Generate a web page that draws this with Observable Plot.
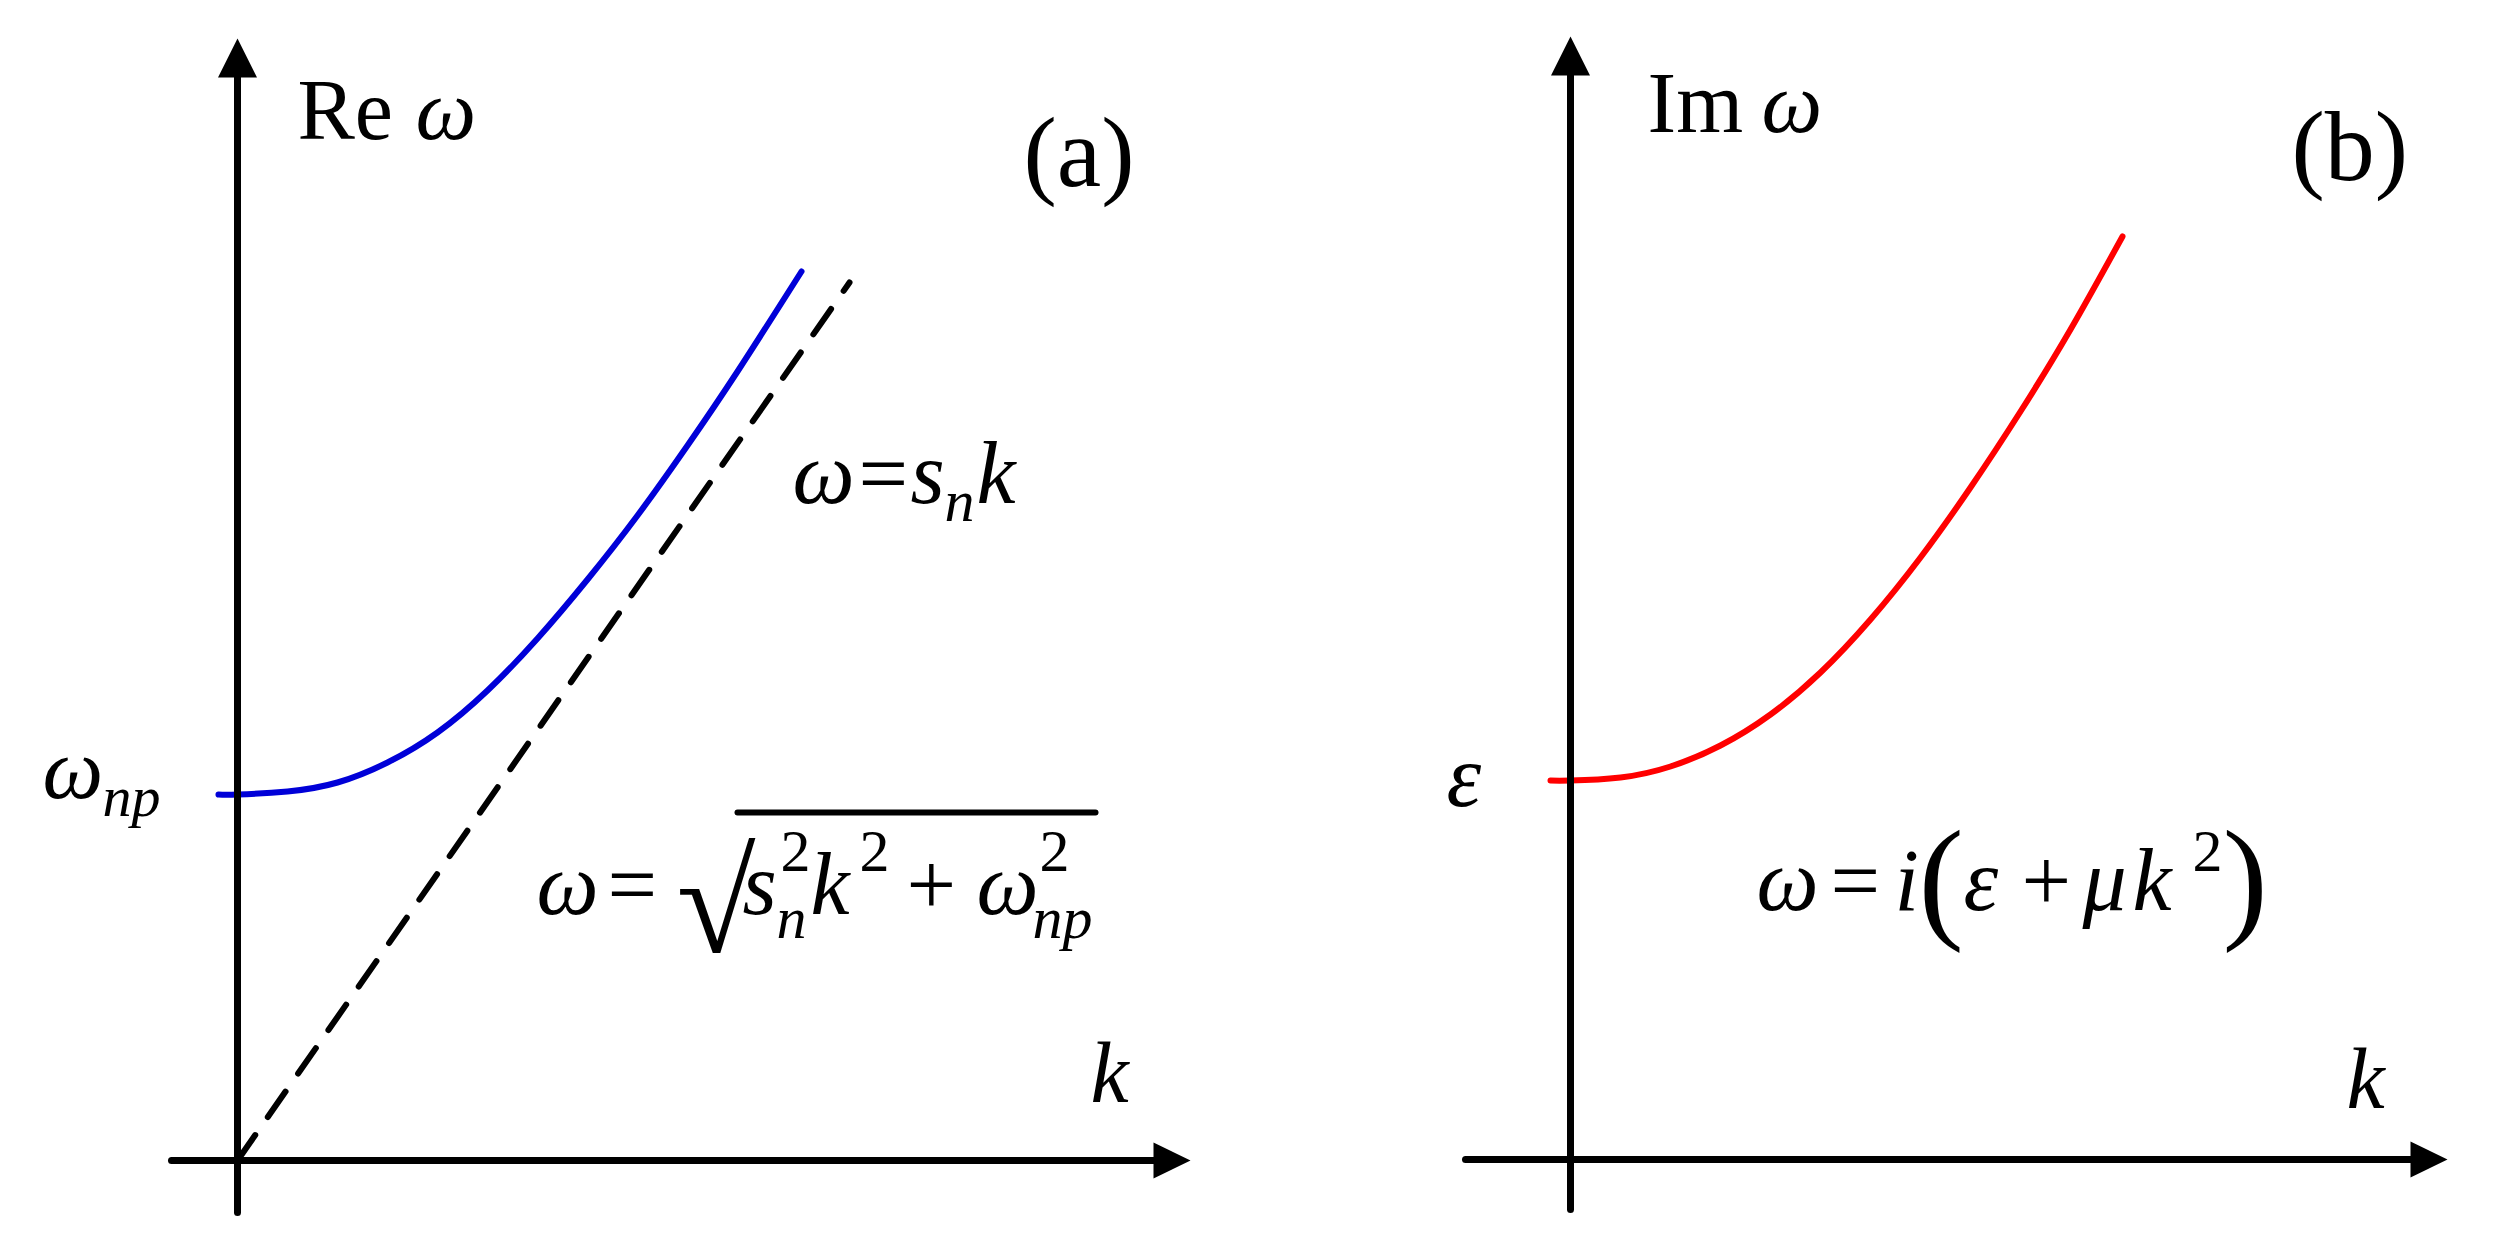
<!DOCTYPE html>
<html><head><meta charset="utf-8">
<script src="https://cdn.jsdelivr.net/npm/d3@7"></script>
<script src="https://cdn.jsdelivr.net/npm/@observablehq/plot@0.6"></script>
<style>
html,body{margin:0;padding:0;background:#fff;}
#wrap{position:relative;width:2497px;height:1245px;overflow:hidden;background:#fff;}
#wrap svg{position:absolute;top:0;}
#wrap svg text, #wrap svg tspan{font-family:"Liberation Serif","Times New Roman","DejaVu Serif",serif !important;}
</style></head><body><div id="wrap"></div>
<script>
// ---------- values (1 unit ≈ 100 px, origin at the axes' crossing) ----------
// Panel (a): Re ω = sqrt(s_n^2 k^2 + ω_np^2)
const reK = [-0.19, 0, 0.5, 1.0, 1.5, 2.0, 2.5, 3.0, 3.5, 4.0, 4.5, 5.0, 5.64];
const reW = [3.66, 3.66, 3.69, 3.78, 3.98, 4.28, 4.70, 5.22, 5.81, 6.45, 7.15, 7.89, 8.89];
// Panel (a): asymptote ω = s_n k (dashed)
const asymK = [0, 6.12];
const asymW = [0, 8.78];
// Panel (b): Im ω = ε + μ k^2
const imK = [-0.20, 0, 0.5, 1.0, 1.5, 2.0, 2.5, 3.0, 3.5, 4.0, 4.5, 5.0, 5.52];
const imW = [3.79, 3.79, 3.82, 3.93, 4.14, 4.45, 4.87, 5.40, 6.02, 6.72, 7.48, 8.30, 9.23];
// Axis extents
const axisA = {kMin: -0.66, kEnd: 9.20, kTip: 9.53, wMin: -0.52, wEnd: 10.88, wTip: 11.22};
const axisB = {kMin: -1.05, kEnd: 8.45, kTip: 8.77, wMin: -0.50, wEnd: 10.88, wTip: 11.23};
// Text labels
const labelTextsA = ["Re ω", "(a)", "ω=sₙk", "ωₙₚ", "ω=√(sₙ²k²+ωₙₚ²)", "k"];
const labelTextsB = ["Im ω", "(b)", "ε", "ω=i(ε+μk²)", "k"];

// ---------- layout (label anchors in data units, formula typesetting in px) ----------
const labelPosA = [[0.60, 10.22], [7.86, 9.75], [5.55, 6.58], [-1.95, 3.63], [2.99, 2.47], [8.53, 0.59]];
const labelPosB = [[0.77, 10.28], [7.21, 9.80], [-1.24, 3.54], [1.86, 2.50], [7.76, 0.52]];
const overlineA = {k1: 5.00, k2: 8.58, w: 3.48};

const M = 88, S = 60;
const parts = {
  "Re ω": [{t: "Re", x: 0, s: 86}, {t: "ω", x: 118, s: 86, i: 1}],
  "Im ω": [{t: "Im", x: 0, s: 86}, {t: "ω", x: 114, s: 86, i: 1}],
  "(a)": [{t: "(a)", x: 0, s: 100}],
  "(b)": [{t: "(b)", x: 0, s: 100}],
  "k": [{t: "k", x: 0, s: 86, i: 1}],
  "ε": [{t: "ε", x: 0, s: M, i: 1}],
  "ωₙₚ": [{t: "ω", x: 0, s: 86, i: 1}, {t: "np", x: 60, s: 58, i: 1, dy: 18}],
  "ω=sₙk": [
    {t: "ω", x: 0, s: M, i: 1}, {t: "=", x: 66, s: M}, {t: "s", x: 118, s: M, i: 1},
    {t: "n", x: 152, s: S, i: 1, dy: 18}, {t: "k", x: 184, s: M, i: 1}],
  "ω=√(sₙ²k²+ωₙₚ²)": [
    {t: "ω", x: 0, s: M, i: 1}, {t: "=", x: 71, s: M}, {t: "√", x: 140, s: 144, dy: 38},
    {t: "s", x: 206, s: M, i: 1}, {t: "2", x: 244, s: S, dy: -43}, {t: "n", x: 240, s: S, i: 1, dy: 24},
    {t: "k", x: 274, s: M, i: 1}, {t: "2", x: 323, s: S, dy: -43},
    {t: "+", x: 370, s: M}, {t: "ω", x: 440, s: M, i: 1}, {t: "2", x: 503, s: S, dy: -43},
    {t: "np", x: 496, s: S, i: 1, dy: 24}],
  "ω=i(ε+μk²)": [
    {t: "ω", x: 0, s: M, i: 1}, {t: "=", x: 74, s: M}, {t: "i", x: 138, s: M, i: 1},
    {t: "(", x: 162, s: 136, dy: 14}, {t: "ε", x: 207, s: M, i: 1}, {t: "+", x: 265, s: M},
    {t: "μ", x: 326, s: M, i: 1}, {t: "k", x: 376, s: M, i: 1}, {t: "2", x: 436, s: S, dy: -39},
    {t: ")", x: 466, s: 136, dy: 14}]
};

const FONT = "Liberation Serif";
const arrowUp = {draw(c) { c.moveTo(0, 0); c.lineTo(19.5, 39); c.lineTo(-19.5, 39); c.closePath(); }};
const arrowRight = {draw(c) { c.moveTo(0, 0); c.lineTo(-37, 18); c.lineTo(-37, -18); c.closePath(); }};

const zip = (K, W) => K.map((k, i) => ({k, w: W[i]}));
const labels = (T, P) => T.map((t, i) => ({key: t, k: P[i][0], w: P[i][1]}));

function axisMarks(ax) {
  return [
    Plot.line([{k: 0, w: ax.wMin}, {k: 0, w: ax.wEnd}], {x: "k", y: "w", stroke: "black", strokeWidth: 7}),
    Plot.line([{k: ax.kMin, w: 0}, {k: ax.kEnd, w: 0}], {x: "k", y: "w", stroke: "black", strokeWidth: 7}),
    Plot.dot([{k: 0, w: ax.wTip}], {x: "k", y: "w", symbol: arrowUp, fill: "black", stroke: "none"}),
    Plot.dot([{k: ax.kTip, w: 0}], {x: "k", y: "w", symbol: arrowRight, fill: "black", stroke: "none"})
  ];
}

function typeset(svg) {
  d3.select(svg).selectAll("text").each(function () {
    const p = parts[this.textContent];
    if (!p) return;
    const bx = parseFloat(this.getAttribute("x")) || 0;
    const by = parseFloat(this.getAttribute("y")) || 0;
    this.textContent = "";
    for (const q of p) {
      d3.select(this).append("tspan")
        .attr("x", bx + q.x).attr("y", by + (q.dy || 0))
        .attr("font-size", q.s).attr("font-style", q.i ? "italic" : "normal")
        .attr("font-family", FONT)
        .text(q.t);
    }
  });
  return svg;
}

const common = {margin: 0, height: 1245, style: {background: "white", overflow: "visible"}};

const svgA = Plot.plot({
  ...common, width: 1250,
  x: {domain: [-2.37, 10.13], axis: null},
  y: {domain: [-0.85, 11.60], axis: null},
  marks: [
    Plot.line(zip(asymK, asymW), {x: "k", y: "w", stroke: "black", strokeWidth: 6, strokeDasharray: "31,22"}),
    Plot.line(zip(reK, reW), {x: "k", y: "w", stroke: "#0000d8", strokeWidth: 6, curve: "natural"}),
    ...axisMarks(axisA),
    Plot.line([{k: overlineA.k1, w: overlineA.w}, {k: overlineA.k2, w: overlineA.w}], {x: "k", y: "w", stroke: "black", strokeWidth: 6}),
    Plot.text(labels(labelTextsA, labelPosA), {x: "k", y: "w", text: "key", textAnchor: "start", lineAnchor: "bottom", fontFamily: FONT, fontSize: 88, fill: "black"})
  ]
});

const svgB = Plot.plot({
  ...common, width: 1247,
  x: {domain: [-3.20, 9.27], axis: null},
  y: {domain: [-0.86, 11.59], axis: null},
  marks: [
    Plot.line(zip(imK, imW), {x: "k", y: "w", stroke: "#ff0000", strokeWidth: 6, curve: "natural"}),
    ...axisMarks(axisB),
    Plot.text(labels(labelTextsB, labelPosB), {x: "k", y: "w", text: "key", textAnchor: "start", lineAnchor: "bottom", fontFamily: FONT, fontSize: 88, fill: "black"})
  ]
});

typeset(svgA); typeset(svgB);
svgA.style.left = "0px"; svgB.style.left = "1250px";
document.getElementById("wrap").append(svgA, svgB);
</script>
</body></html>
